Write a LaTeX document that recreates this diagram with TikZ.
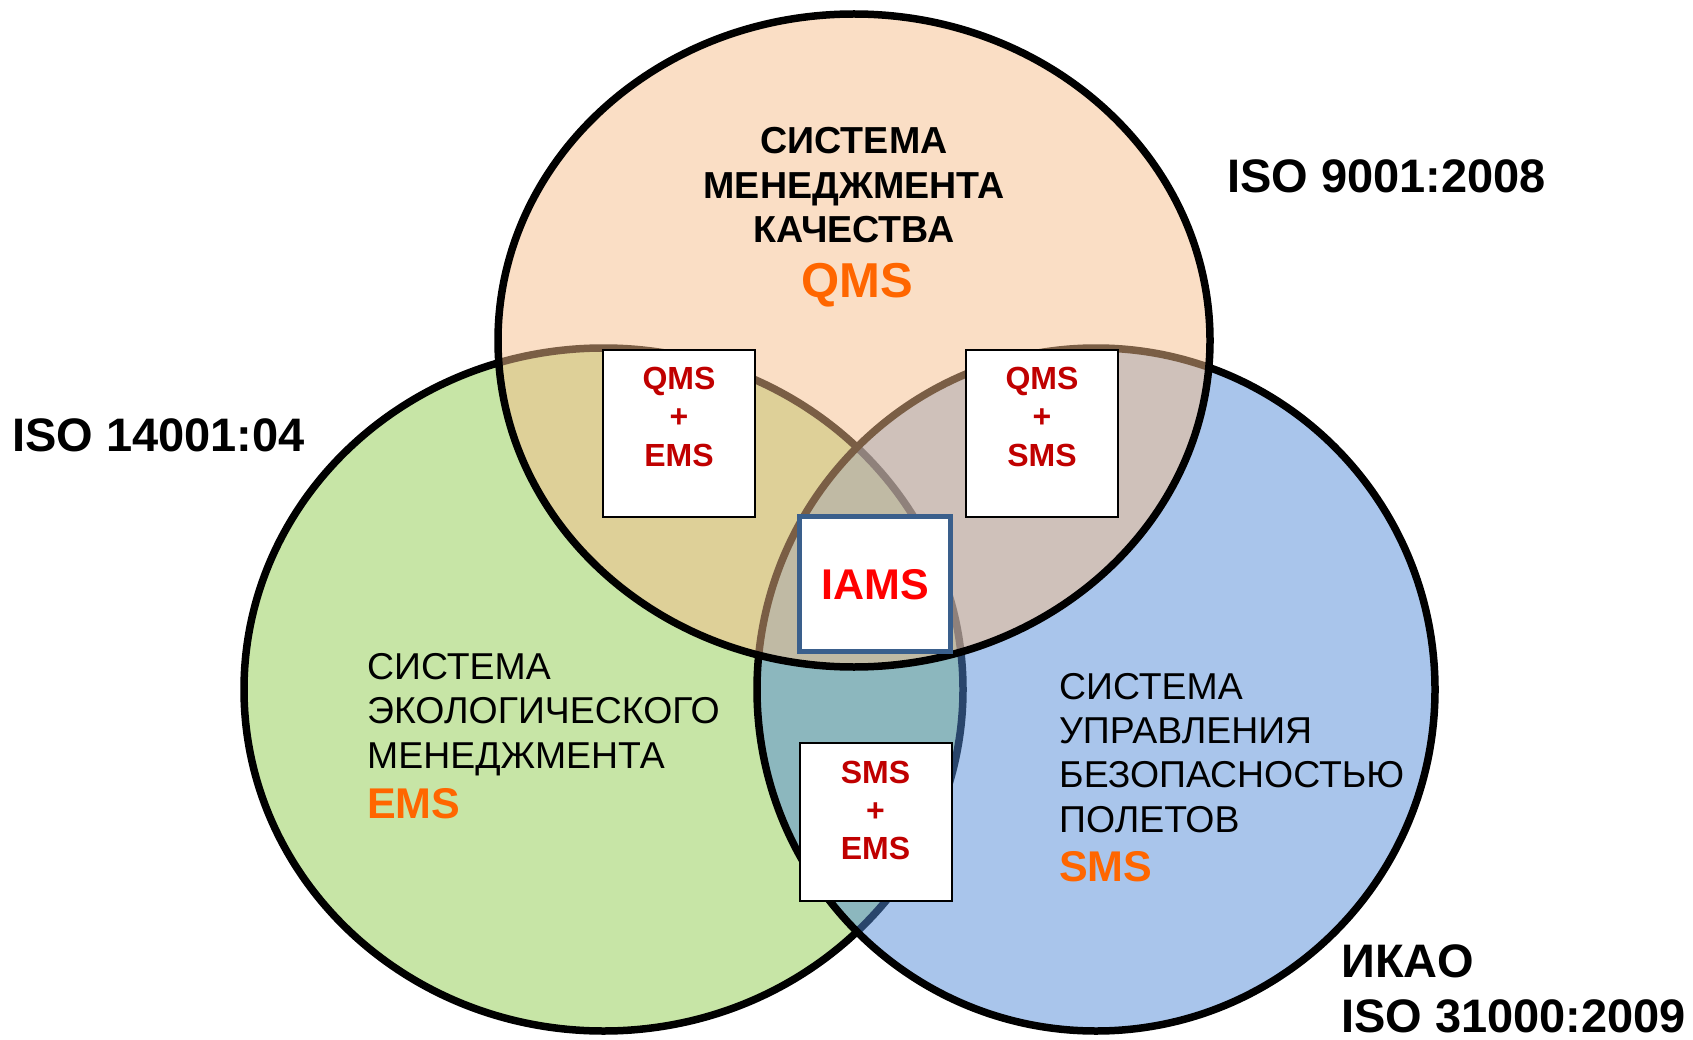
\documentclass[tikz,border=0pt]{standalone}
\usepackage{fontspec}
\setmainfont{Liberation Sans}
\definecolor{greenfill}{RGB}{199,229,166}
\definecolor{bluefill}{RGB}{83,139,215}
\definecolor{peachfill}{RGB}{245,189,139}
\definecolor{pairred}{RGB}{192,0,0}
\definecolor{iamsred}{RGB}{255,0,0}
\definecolor{iamsblue}{RGB}{58,95,140}
\definecolor{orng}{RGB}{255,102,0}
\tikzset{
  venn/.style={draw=black, line width=7.5pt},
  pairbox/.style={draw=black, line width=2pt, fill=white, inner sep=0pt, minimum width=152pt, minimum height=167pt},
  iamsbox/.style={draw=iamsblue, line width=5pt, fill=white, inner sep=0pt, minimum width=151pt, minimum height=135pt},
  pairtxt/.style={font=\fontsize{32}{38}\selectfont\bfseries, text=pairred, anchor=base, inner sep=0pt},
  boldc/.style={font=\fontsize{37.6}{43}\selectfont\bfseries, anchor=base, inner sep=0pt},
  regl/.style={font=\fontsize{37.4}{44}\selectfont, anchor=base west, inner sep=0pt},
  abbr/.style={font=\fontsize{43}{48}\selectfont\bfseries, text=orng, inner sep=0pt},
  isol/.style={font=\fontsize{47}{55}\selectfont\bfseries, anchor=base west, inner sep=0pt}
}
\begin{document}
\begin{tikzpicture}[x=1pt,y=-1pt]
\useasboundingbox (0,0) rectangle (1693,1040);
% circles
\draw[venn, fill=greenfill] (603.5,689.5) ellipse [x radius=359.5pt, y radius=341.5pt];
\draw[venn, fill=bluefill, fill opacity=0.5] (1096,689.5) ellipse [x radius=339pt, y radius=341.5pt];
\draw[venn, fill=peachfill, fill opacity=0.5] (854,340.5) ellipse [x radius=356pt, y radius=326.5pt];
% pair boxes
\node[pairbox] (qe) at (679,433.5) {};
\node[pairbox] (qs) at (1042,433.5) {};
\node[pairbox, minimum height=158pt] (se) at (875.5,822) {};
\node[iamsbox] (ia) at (875,584) {};
% pair texts
\node[pairtxt] (qe1) at (679,389) {QMS};
\node[pairtxt] (qe2) at (679,427.5) {+};
\node[pairtxt] (qe3) at (679,466) {EMS};
\node[pairtxt] (qs1) at (1042,389) {QMS};
\node[pairtxt] (qs2) at (1042,427.5) {+};
\node[pairtxt] (qs3) at (1042,466) {SMS};
\node[pairtxt] (se1) at (875.5,783) {SMS};
\node[pairtxt] (se2) at (875.5,821) {+};
\node[pairtxt] (se3) at (875.5,859) {EMS};
\node[font=\fontsize{43}{50}\selectfont\bfseries, text=iamsred, anchor=base, inner sep=0pt] (iat) at (875,599) {IAMS};
% QMS text
\node[boldc] (q1) at (854,154) {СИСТЕМА};
\node[boldc] (q2) at (854,199) {МЕНЕДЖМЕНТА};
\node[boldc] (q3) at (854,243) {КАЧЕСТВА};
\node[abbr, font=\fontsize{49}{55}\selectfont\bfseries, anchor=base] (q4) at (857,298) {QMS};
% EMS text
\node[regl] (e1) at (367,679) {СИСТЕМА};
\node[regl] (e2) at (367,723.5) {ЭКОЛОГИЧЕСКОГО};
\node[regl] (e3) at (367,768) {МЕНЕДЖМЕНТА};
\node[abbr, anchor=base west] (e4) at (367,818) {EMS};
% SMS text
\node[regl] (s1) at (1059,699) {СИСТЕМА};
\node[regl] (s2) at (1059,743) {УПРАВЛЕНИЯ};
\node[regl] (s3) at (1059,787.5) {БЕЗОПАСНОСТЬЮ};
\node[regl] (s4) at (1059,832) {ПОЛЕТОВ};
\node[abbr, anchor=base west] (s5) at (1059,881) {SMS};
% standards
\node[isol] (iso9) at (1227,193) {ISO 9001:2008};
\node[isol] (iso14) at (12,451) {ISO 14001:04};
\node[isol] (ikao) at (1341,977) {ИКАО};
\node[isol] (iso31) at (1341,1032) {ISO 31000:2009};
\end{tikzpicture}
\end{document}
